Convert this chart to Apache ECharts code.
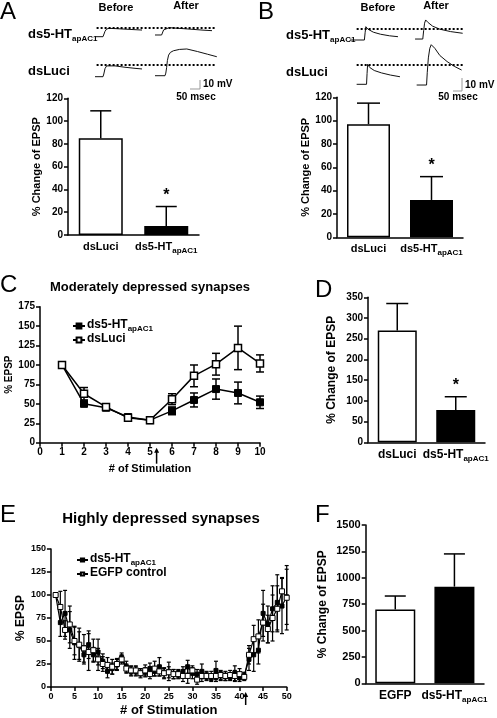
<!DOCTYPE html>
<html><head><meta charset="utf-8">
<script src="https://cdn.jsdelivr.net/npm/echarts@6/dist/echarts.min.js"></script>
<style>html,body{margin:0;padding:0;background:#fff}#c{width:497px;height:718px}</style>
</head><body><div id="c"></div>
<script>
const FONT = '"Liberation Sans", Arial, Helvetica, sans-serif';
const DBG = false;

// ---------- Panel A / B traces: [time ms, mV] ----------
const traceA_ds5_before = [[0,0],[40,0],[44,2],[50,6],[58,8.5],[70,9.3],[100,9],[150,8.4],[200,7.8],[235,7.4]];
const traceA_ds5_after  = [[0,1.9],[33,1.9],[37,4],[43,7.5],[52,9.2],[70,10],[120,9.3],[180,8.3],[240,7.3],[285,6.7]];
const traceA_luci_before = [[0,0],[40,0],[44,3],[50,9],[58,12],[68,13.3],[100,12],[150,10.5],[200,9.3],[235,8.6]];
const traceA_luci_after  = [[0,1.1],[50,1.1],[54,4],[58,10],[62,18],[68,24],[77,27],[92,28.8],[122,30.3],[159,30.8],[212,28],[262,25],[309,22.2]];
const refA = [10, 13.8];

const traceB_ds5_before = [[0,0],[80,0],[84,6],[88,11.1],[100,9],[130,6.5],[170,4.8],[220,3.5],[267,2.75]];
const traceB_ds5_after  = [[2,0.8],[45,0.8],[50,8],[55,14],[61,16.7],[75,14.5],[100,11.5],[140,9],[200,7],[267,5.6]];
const traceB_luci_before = [[37,0],[92,0],[95,9],[98,16.7],[110,14],[135,11.5],[175,9.5],[225,7.7],[278,6.3]];
const traceB_luci_after  = [[11,-0.6],[66,-0.6],[70,10],[76,22],[84,30],[92,33],[98,33.3],[112,30],[140,24],[180,19],[220,15],[261,11.9]];
const refB = [9.75, 16.1];

// ---------- Bar panels ----------
const barCats = ['dsLuci', 'ds5-HT_apAC1'];
const barCatsF = ['EGFP', 'ds5-HT_apAC1'];
const meanA = [85, 8];   const topA = [109, 25];  const sigA = [0, 1];
const meanB = [97, 32];  const topB = [115, 52];  const sigB = [0, 1];
const meanD = [270, 78]; const topD = [335, 110]; const sigD = [0, 1];
const meanF = [700, 916]; const topF = [827, 1226]; const sigF = [0, 0];

// ---------- Panel C ----------
const stimC = [1,2,3,4,5,6,7,8,9,10];
const c_ds5  = [100, 50, 45, 33, 29, 41, 55, 69, 64, 52];
const c_ds5_sem  = [0, 3, 2, 2, 2, 5, 9, 13, 14, 8];
const c_luci = [100, 63, 46, 32, 29, 56, 86, 101, 122, 102];
const c_luci_sem = [0, 8, 2, 2, 2, 7, 14, 14, 28, 11];
const arrowC = 5.3;

// ---------- Panel E ----------
const stimE = Array.from({length:50}, (_, i) => i + 1);
const e_ds5 = [100,70,80,62,48,45,35,46,35,38,28,17,20,24,32,22,17,17,16,16,20,17,22,15,17,14,14,17,22,15,14,17,12,10,18,12,11,11,15,10,12,30,35,40,80,68,85,92,88,98];
const e_ds5_sem = [0,15,25,20,18,15,10,15,8,14,8,7,6,6,5,6,5,5,4,5,6,5,10,5,10,5,4,5,7,6,5,8,4,4,10,5,4,4,8,4,4,12,18,15,25,20,25,30,30,30];
const e_egfp = [100,87,62,68,50,46,42,38,40,30,25,24,22,25,30,20,18,18,15,18,14,20,17,15,16,14,14,12,12,18,8,12,12,12,12,13,12,13,12,14,11,35,52,55,70,63,75,85,104,97];
const e_egfp_sem = [0,17,10,20,15,18,15,20,12,12,8,8,8,6,5,5,5,5,5,6,5,8,5,6,6,5,5,6,8,5,5,6,5,5,6,5,5,5,6,6,4,10,15,18,20,15,25,25,15,35];
const arrowE = 41.3;

// ---------- helpers ----------
const BLACK = '#000';
const C_AXIS = DBG ? 'green' : BLACK, C_ERR = DBG ? 'blue' : BLACK, C_WB = DBG ? 'red' : BLACK, C_TR = DBG ? 'orange' : '#111';
const subText = (v, mk, sk) => v.includes('_') ? `{${mk}|${v.split('_')[0]}}{${sk}|${v.split('_')[1]}}` : `{${mk}|${v}}`;
function rich(fs, sfs, key) {
  const o = {};
  o['m' + key] = {fontSize: fs, fontWeight: 'bold', fontFamily: FONT, color: BLACK, verticalAlign: 'top', lineHeight: fs + 2};
  o['s' + key] = {fontSize: sfs, fontWeight: 'bold', fontFamily: FONT, color: BLACK, padding: [Math.round(fs * 0.5), 0, 0, 0], lineHeight: sfs};
  return o;
}
function hiddenAxis(gi, min, max) { return {gridIndex: gi, type: 'value', min, max, show: false}; }
function yVal(gi, min, max, interval, fs, name, nameGap, nameFs) {
  return {
    gridIndex: gi, type: 'value', min, max, interval,
    axisLine: {show: true, lineStyle: {color: C_AXIS, width: 1.5}},
    axisTick: {show: true, length: 4, lineStyle: {color: C_AXIS, width: 1.5}},
    axisLabel: {color: BLACK, fontWeight: 'bold', fontSize: fs, fontFamily: FONT, margin: 5, formatter: v => String(v)},
    splitLine: {show: false},
    name, nameLocation: 'middle', nameGap, nameRotate: 90,
    nameTextStyle: {color: BLACK, fontWeight: 'bold', fontSize: nameFs, fontFamily: FONT}
  };
}
function xCat(gi, data, fs, sfs, key) {
  return {
    gridIndex: gi, type: 'category', data,
    axisLine: {show: true, lineStyle: {color: C_AXIS, width: 1.5}},
    axisTick: {show: false},
    axisLabel: {interval: 0, hideOverlap: false, margin: 6, formatter: v => subText(v, 'm' + key, 's' + key), rich: rich(fs, sfs, key)}
  };
}
function xVal(gi, min, max, interval, fs, name, nameGap, nameFs) {
  return {
    gridIndex: gi, type: 'value', min, max, interval,
    axisLine: {show: true, onZero: false, lineStyle: {color: C_AXIS, width: 1.5}},
    axisTick: {show: true, length: 4, lineStyle: {color: C_AXIS, width: 1.5}},
    axisLabel: {color: BLACK, fontWeight: 'bold', fontSize: fs, fontFamily: FONT, margin: 5},
    splitLine: {show: false},
    name, nameLocation: 'middle', nameGap,
    nameTextStyle: {color: BLACK, fontWeight: 'bold', fontSize: nameFs, fontFamily: FONT}
  };
}
const barStyle = i => i === 0 ? {color: '#fff', borderColor: C_WB, borderWidth: 1.5} : {color: BLACK, borderColor: BLACK, borderWidth: 1.5};

function barErrRender(capW) {
  return (params, api) => {
    const i = api.value(0), m = api.value(1), t = api.value(2), s = api.value(3);
    const p0 = api.coord([i, m]), p1 = api.coord([i, t]);
    const ch = [
      {type: 'line', shape: {x1: p0[0], y1: p0[1], x2: p1[0], y2: p1[1]}, style: {stroke: C_ERR, lineWidth: 1.5}},
      {type: 'line', shape: {x1: p1[0] - capW / 2, y1: p1[1], x2: p1[0] + capW / 2, y2: p1[1]}, style: {stroke: C_ERR, lineWidth: 1.5}}
    ];
    if (s) ch.push({type: 'text', x: p1[0], y: p1[1] - 11, style: {text: '*', font: 'bold 16px ' + FONT, fill: BLACK, align: 'center', verticalAlign: 'middle'}});
    return {type: 'group', children: ch};
  };
}
function lineErrRender(capW, lw) {
  return (params, api) => {
    const x = api.value(0), lo = api.value(1), hi = api.value(2);
    if (hi - lo <= 0) return {type: 'group', children: []};
    const a = api.coord([x, lo]), b = api.coord([x, hi]);
    return {type: 'group', children: [
      {type: 'line', shape: {x1: a[0], y1: a[1], x2: b[0], y2: b[1]}, style: {stroke: C_ERR, lineWidth: lw}},
      {type: 'line', shape: {x1: a[0] - capW / 2, y1: a[1], x2: a[0] + capW / 2, y2: a[1]}, style: {stroke: C_ERR, lineWidth: lw}},
      {type: 'line', shape: {x1: b[0] - capW / 2, y1: b[1], x2: b[0] + capW / 2, y2: b[1]}, style: {stroke: C_ERR, lineWidth: lw}}
    ]};
  };
}
function barSeries(gi, means, tops, sigs, barWidth, capW) {
  return [
    {type: 'bar', xAxisIndex: gi, yAxisIndex: gi, barWidth, data: means.map((v, i) => ({value: v, itemStyle: barStyle(i)})), z: 2},
    {type: 'custom', xAxisIndex: gi, yAxisIndex: gi, renderItem: barErrRender(capW), data: means.map((m, i) => [i, m, tops[i], sigs[i]]), z: 3}
  ];
}
function traceSeries(gi, data, shift) {
  return {type: 'line', xAxisIndex: gi, yAxisIndex: gi, showSymbol: false, symbol: 'none', lineStyle: {color: C_TR, width: 1},
    data: data.map(p => [p[0] + shift, p[1]]), silent: true};
}
function refLine(gi, level, x0, x1) {
  return {type: 'line', xAxisIndex: gi, yAxisIndex: gi, data: [], silent: true,
    markLine: {silent: true, symbol: 'none', label: {show: false},
      lineStyle: {color: BLACK, type: [2, 2], width: 2},
      data: [[{coord: [x0, level]}, {coord: [x1, level]}]]}};
}
const SHIFT_A = 300, SHIFT_B = 360;

const grids = [
  {left: 95, top: 25.9, width: 122, height: 12.6},
  {left: 95, top: 46.1, width: 122, height: 32.4},
  {left: 350, top: 18.4, width: 115, height: 24},
  {left: 350, top: 42.3, width: 115, height: 44.4},
  {left: 68, top: 98.3, width: 131, height: 136.7},
  {left: 337, top: 97.3, width: 126, height: 140},
  {left: 40, top: 306.7, width: 220, height: 136},
  {left: 368, top: 297.3, width: 117, height: 145},
  {left: 36, top: 549, width: 250.7, height: 139.3},
  {left: 365.7, top: 525, width: 118.3, height: 158.3}
];
const xAxes = [
  hiddenAxis(0, 0, 610), hiddenAxis(1, 0, 610), hiddenAxis(2, 0, 640), hiddenAxis(3, 0, 640),
  xCat(4, barCats, 11, 8, 'a'), xCat(5, barCats, 11, 8, 'b'),
  xVal(6, 0, 10, 1, 10, '# of Stimulation', 21, 11),
  xCat(7, barCats, 12, 8, 'd'),
  xVal(8, 0, 50, 5, 9, '# of Stimulation', 17, 13),
  xCat(9, barCatsF, 12, 8, 'f')
];
const yAxes = [
  hiddenAxis(0, -2, 12), hiddenAxis(1, -2, 34), hiddenAxis(2, -2, 18), hiddenAxis(3, -2, 35),
  yVal(4, 0, 120, 20, 10, '% Change of EPSP', 20, 11),
  yVal(5, 0, 120, 20, 10, '% Change of EPSP', 23, 11),
  yVal(6, 0, 175, 25, 10, '% EPSP', 25, 10),
  yVal(7, 0, 350, 50, 10, '% Change of EPSP', 30, 12),
  yVal(8, 0, 150, 25, 9, '% EPSP', 21, 12),
  yVal(9, 0, 1500, 250, 11, '% Change of EPSP', 37, 12)
];
const series = [
  refLine(0, refA[0], 8, 600), refLine(1, refA[1], 8, 600),
  traceSeries(0, traceA_ds5_before, 0), traceSeries(0, traceA_ds5_after, SHIFT_A),
  traceSeries(1, traceA_luci_before, 0), traceSeries(1, traceA_luci_after, SHIFT_A),
  refLine(2, refB[0], 37, 628), refLine(3, refB[1], 37, 628),
  traceSeries(2, traceB_ds5_before, 0), traceSeries(2, traceB_ds5_after, SHIFT_B),
  traceSeries(3, traceB_luci_before, 0), traceSeries(3, traceB_luci_after, SHIFT_B),
  ...barSeries(4, meanA, topA, sigA, 44, 21),
  ...barSeries(5, meanB, topB, sigB, 43, 23),
  ...barSeries(7, meanD, topD, sigD, 39, 22),
  ...barSeries(9, meanF, topF, sigF, 40, 21),
  {type: 'custom', xAxisIndex: 6, yAxisIndex: 6, renderItem: lineErrRender(8, 1.5), z: 2,
    data: stimC.map((x, i) => [x, c_ds5[i] - c_ds5_sem[i], c_ds5[i] + c_ds5_sem[i]])},
  {type: 'custom', xAxisIndex: 6, yAxisIndex: 6, renderItem: lineErrRender(8, 1.5), z: 2,
    data: stimC.map((x, i) => [x, c_luci[i] - c_luci_sem[i], c_luci[i] + c_luci_sem[i]])},
  {name: 'C_ds5', type: 'line', xAxisIndex: 6, yAxisIndex: 6, symbol: 'rect', symbolSize: 7, z: 4,
    lineStyle: {color: BLACK, width: 1.5}, itemStyle: {color: BLACK, borderColor: BLACK, borderWidth: 1},
    data: stimC.map((x, i) => [x, c_ds5[i]])},
  {name: 'C_luci', type: 'line', xAxisIndex: 6, yAxisIndex: 6, symbol: 'rect', symbolSize: 7, z: 5,
    lineStyle: {color: BLACK, width: 1.5}, itemStyle: {color: '#fff', borderColor: BLACK, borderWidth: 1.5},
    data: stimC.map((x, i) => [x, c_luci[i]])},
  {type: 'custom', xAxisIndex: 8, yAxisIndex: 8, renderItem: lineErrRender(4, 1.2), z: 2,
    data: stimE.map((x, i) => [x, e_ds5[i] - e_ds5_sem[i], e_ds5[i] + e_ds5_sem[i]])},
  {type: 'custom', xAxisIndex: 8, yAxisIndex: 8, renderItem: lineErrRender(4, 1.2), z: 2,
    data: stimE.map((x, i) => [x, e_egfp[i] - e_egfp_sem[i], e_egfp[i] + e_egfp_sem[i]])},
  {name: 'E_ds5', type: 'line', xAxisIndex: 8, yAxisIndex: 8, symbol: 'rect', symbolSize: 4, z: 4,
    lineStyle: {color: BLACK, width: 1.2}, itemStyle: {color: BLACK, borderColor: BLACK, borderWidth: 1},
    data: stimE.map((x, i) => [x, e_ds5[i]])},
  {name: 'E_egfp', type: 'line', xAxisIndex: 8, yAxisIndex: 8, symbol: 'rect', symbolSize: 5, z: 5,
    lineStyle: {color: BLACK, width: 1.2}, itemStyle: {color: '#fff', borderColor: BLACK, borderWidth: 1},
    data: stimE.map((x, i) => [x, e_egfp[i]])}
];
const legendNames = {C_ds5: 'ds5-HT_apAC1', C_luci: 'dsLuci', E_ds5: 'ds5-HT_apAC1', E_egfp: 'EGFP control'};
function legend(data, left, top, fs, iw, ih) {
  return {data, left, top, orient: 'vertical', itemGap: 0, itemWidth: iw, itemHeight: ih, selectedMode: false,
    formatter: n => subText(legendNames[n], 'mL', 'sL'),
    textStyle: {rich: rich(fs, 8, 'L'), padding: [0, 0, 0, -3]}};
}
function txt(x, y, text, fs, opts = {}) {
  return {type: 'text', x, y, style: {text, font: `${opts.weight || 'bold'} ${fs}px ${FONT}`, fill: BLACK,
    align: opts.align || 'left', verticalAlign: 'middle'}};
}
function richTxt(x, y, text, fs) {
  return {type: 'text', x, y, style: {text: subText(text, 'mR', 'sR'), rich: rich(fs, 8, 'R'), fill: BLACK, align: 'left', verticalAlign: 'middle'}};
}
const graphicBase = [
  txt(0, 12, 'A', 24, {weight: 'normal'}), txt(258, 12, 'B', 24, {weight: 'normal'}),
  txt(0, 285, 'C', 24, {weight: 'normal'}), txt(315, 290, 'D', 24, {weight: 'normal'}),
  txt(0, 515, 'E', 24, {weight: 'normal'}), txt(315, 515, 'F', 24, {weight: 'normal'}),
  txt(116, 8, 'Before', 11, {align: 'center'}), txt(186, 6, 'After', 11, {align: 'center'}),
  txt(378, 8, 'Before', 11, {align: 'center'}), txt(436, 6, 'After', 11, {align: 'center'}),
  richTxt(28, 35, 'ds5-HT_apAC1', 13), txt(28, 71, 'dsLuci', 13),
  richTxt(286, 36, 'ds5-HT_apAC1', 13), txt(286, 72, 'dsLuci', 13),
  {type: 'polyline', shape: {points: [[190, 89], [200, 89], [200, 80]]}, style: {stroke: '#999', lineWidth: 1, fill: null}},
  txt(203, 84, '10 mV', 10), txt(196, 97, '50 msec', 10, {align: 'center'}),
  {type: 'polyline', shape: {points: [[453, 91], [462, 91], [462, 78]]}, style: {stroke: '#999', lineWidth: 1, fill: null}},
  txt(465, 85, '10 mV', 10), txt(458, 97, '50 msec', 10, {align: 'center'}),
  txt(150, 287, 'Moderately depressed synapses', 13, {align: 'center'}),
  txt(161, 519, 'Highly depressed synapses', 15, {align: 'center'})
];
const chart = echarts.init(document.getElementById('c'), null, {renderer: 'canvas'});
chart.setOption({
  backgroundColor: '#fff', animation: false,
  grid: grids, xAxis: xAxes, yAxis: yAxes,
  legend: [legend(['C_ds5', 'C_luci'], 67, 314, 12, 12, 6), legend(['E_ds5', 'E_egfp'], 71, 548, 12, 11, 4)],
  series
});
function arrow(gi, xv, len) {
  const p = chart.convertToPixel({gridIndex: gi}, [xv, 0]);
  const y0 = p[1] + 5;
  return [
    {type: 'line', shape: {x1: p[0], y1: y0 + 3, x2: p[0], y2: y0 + len}, style: {stroke: BLACK, lineWidth: 1.5}},
    {type: 'polygon', shape: {points: [[p[0], y0], [p[0] - 2.5, y0 + 5], [p[0] + 2.5, y0 + 5]]}, style: {fill: BLACK}}
  ];
}
chart.setOption({graphic: graphicBase.concat(arrow(6, arrowC, 16), arrow(8, arrowE, 13))});
</script></body></html>
